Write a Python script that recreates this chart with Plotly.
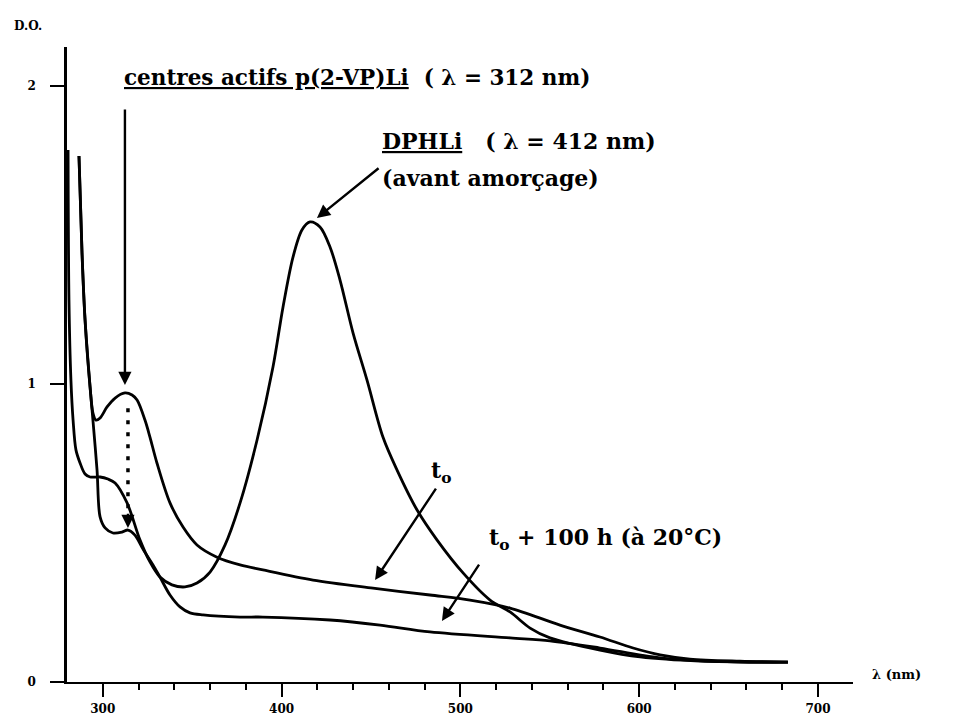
import plotly.graph_objects as go

# ---------------- data ----------------
# DPHLi solution before initiation (avant amorçage)
lam_dphli = [280.6, 281.1, 282.2, 283.4, 285.0, 287.3, 290.1, 292.9, 298.5, 302.9, 306.9,
             313.6, 320.8, 326.4, 332.0, 338.7, 346.0, 352.7, 360.0, 368.4, 376.8, 386.3,
             395.2, 400.8, 406.4, 411.4, 415.9, 421.5, 427.1, 432.7, 440.0, 447.8, 456.7,
             464.6, 475.8, 486.9, 501.5, 516.6, 527.8, 539.0, 550.1, 578.1, 600.5, 634.0, 683.2]
do_dphli = [1.785, 1.282, 1.013, 0.879, 0.779, 0.735, 0.698, 0.688, 0.688, 0.681, 0.668,
            0.601, 0.477, 0.403, 0.352, 0.326, 0.319, 0.332, 0.369, 0.460, 0.601, 0.812,
            1.057, 1.258, 1.426, 1.517, 1.544, 1.527, 1.460, 1.349, 1.171, 1.013, 0.822,
            0.711, 0.577, 0.477, 0.366, 0.275, 0.235, 0.181, 0.148, 0.107, 0.084, 0.070, 0.067]

# living p(2-VP)Li centres at t0
lam_t0 = [286.7, 288.4, 290.1, 292.9, 294.5, 296.2, 298.5, 302.4, 306.9, 312.4, 316.4,
          319.2, 323.6, 326.4, 330.3, 337.6, 344.9, 352.7, 363.9, 376.8, 389.6, 417.6,
          451.1, 483.0, 505.4, 527.8, 555.7, 578.1, 596.6, 611.7, 628.4, 656.4, 683.2]
do_t0 = [1.765, 1.440, 1.215, 0.990, 0.903, 0.879, 0.886, 0.923, 0.953, 0.970, 0.963,
         0.946, 0.879, 0.822, 0.735, 0.601, 0.520, 0.460, 0.419, 0.393, 0.376, 0.342,
         0.315, 0.292, 0.275, 0.248, 0.191, 0.151, 0.114, 0.091, 0.077, 0.070, 0.067]

# t0 + 100 h at 20 °C
lam_t100 = [286.7, 288.4, 290.1, 292.9, 294.5, 296.8, 298.5, 301.3, 305.7, 310.8, 314.1,
            318.0, 322.5, 328.1, 332.0, 337.6, 343.2, 348.8, 356.1, 376.8, 389.6, 427.1,
            455.1, 483.0, 527.8, 550.1, 578.1, 611.7, 656.4, 683.2]
do_t100 = [1.765, 1.440, 1.215, 0.990, 0.879, 0.711, 0.554, 0.517, 0.500, 0.503, 0.510,
           0.493, 0.446, 0.393, 0.352, 0.292, 0.252, 0.232, 0.225, 0.218, 0.218, 0.208,
           0.191, 0.168, 0.148, 0.138, 0.114, 0.081, 0.067, 0.067]

x_ticks = [300, 400, 500, 600, 700]
x_tick_labels = ["300", "400", "500", "600", "700"]
x_minor_ticks = [320, 340, 360, 380, 420, 440, 460, 480, 520, 540, 560, 580,
                 620, 640, 660, 680]
y_ticks = [0, 1, 2]
y_tick_labels = ["0", "1", "2"]

# marker arrows (wavelength / D.O. of the labelled bands)
peak_vp_lambda = 312.4          # p(2-VP)Li band
peak_vp_top = 1.926
peak_vp_tip = 0.997
decay_lambda = 314.1            # dotted decay arrow
decay_from = 0.919
decay_to = 0.55
decay_tip = 0.517

FONT = "DejaVu Serif"
black = "black"

fig = go.Figure()
for lam, do in [(lam_dphli, do_dphli), (lam_t0, do_t0), (lam_t100, do_t100)]:
    fig.add_trace(go.Scatter(x=lam, y=do, mode="lines",
                             line=dict(color=black, width=2.8, shape="spline", smoothing=0.9),
                             showlegend=False, hoverinfo="skip"))

# dotted part of the decay arrow
fig.add_trace(go.Scatter(x=[decay_lambda, decay_lambda], y=[decay_from, decay_to], mode="lines",
                         line=dict(color=black, width=3.5, dash="4px,8px"),
                         showlegend=False, hoverinfo="skip"))

ann_font = dict(family=FONT, size=22, color=black, weight="bold")
annotations = [
    # texts
    dict(x=310.5, y=2.030, xref="x", yref="y", xanchor="left", yanchor="middle", showarrow=False,
         text="<u>centres actifs p(2-VP)Li</u>\u00a0\u00a0(\u00a0λ = 312 nm)",
         font=dict(ann_font, size=21.5)),
    dict(x=454.8, y=1.815, xref="x", yref="y", xanchor="left", yanchor="middle", showarrow=False,
         text="<u>DPHLi</u>\u00a0\u00a0\u00a0(\u00a0λ = 412 nm)", font=ann_font),
    dict(x=454.8, y=1.690, xref="x", yref="y", xanchor="left", yanchor="middle", showarrow=False,
         text="(avant amorçage)", font=ann_font),
    dict(x=482.3, y=0.705, xref="x", yref="y", xanchor="left", yanchor="middle", showarrow=False,
         text="t<sub>o</sub>", font=ann_font),
    dict(x=514.7, y=0.480, xref="x", yref="y", xanchor="left", yanchor="middle", showarrow=False,
         text="t<sub>o</sub> + 100 h (à 20°C)", font=ann_font),
    # axis titles (positions given in page pixels)
    dict(x=28, y=26, xref="pixel", yref="pixel", showarrow=False, text="D.O.",
         font=dict(family=FONT, size=12, color=black, weight="bold")),
    dict(x=896, y=674, xref="pixel", yref="pixel", showarrow=False, text="λ (nm)",
         font=dict(family=FONT, size=13, color=black, weight="bold")),
]
# arrows
arrow_common = dict(xref="x", yref="y", axref="x", ayref="y", text="", showarrow=True,
                    arrowhead=2, arrowsize=1.1, arrowwidth=2.4, arrowcolor=black, standoff=0)
annotations += [
    dict(x=peak_vp_lambda, y=peak_vp_tip, ax=peak_vp_lambda, ay=peak_vp_top, **arrow_common),
    dict(x=decay_lambda, y=decay_tip, ax=decay_lambda, ay=decay_to + 0.02, **arrow_common),
    dict(x=419.8, y=1.557, ax=455.1, ay=1.728, **arrow_common),
    dict(x=452.3, y=0.342, ax=486.9, ay=0.654, **arrow_common),
    dict(x=489.7, y=0.205, ax=511.0, ay=0.399, **arrow_common),
]

# page body has an 8px margin: size the figure so the plot lands where the reference has it
OFF = 8
W, H = 953 - OFF, 718 - OFF
PLOT_LEFT, PLOT_RIGHT, PLOT_TOP, PLOT_BOTTOM = 67, 853, 47, 682   # page pixels
L, R = PLOT_LEFT - OFF, W - (PLOT_RIGHT - OFF)
T, B = PLOT_TOP - OFF, H - (PLOT_BOTTOM - OFF)
for a in annotations:
    if a.get("xref") == "pixel":
        a["xref"] = "paper"
        a["yref"] = "paper"
        a["x"] = (a["x"] - PLOT_LEFT) / (PLOT_RIGHT - PLOT_LEFT)
        a["y"] = (PLOT_BOTTOM - a["y"]) / (PLOT_BOTTOM - PLOT_TOP)
        a["xanchor"] = "center"
        a["yanchor"] = "middle"

tickfont = dict(family=FONT, size=12, color=black, weight="bold")
fig.update_layout(
    width=W, height=H, margin=dict(l=L, r=R, t=T, b=B, autoexpand=False),
    paper_bgcolor="white", plot_bgcolor="white", showlegend=False,
    xaxis=dict(range=[280, 719.6], showline=True, linecolor=black, linewidth=2,
               ticks="outside", ticklen=13, tickwidth=2, tickcolor=black,
               tickmode="array", tickvals=x_ticks, ticktext=x_tick_labels,
               minor=dict(tickmode="array", tickvals=x_minor_ticks, ticks="outside",
                          ticklen=6, tickwidth=2, tickcolor=black),
               showgrid=False, zeroline=False, tickfont=tickfont, ticklabelstandoff=2,
               automargin=False),
    yaxis=dict(range=[0, 2.131], showline=True, linecolor=black, linewidth=2.5,
               ticks="outside", ticklen=14, tickwidth=2, tickcolor=black,
               tickmode="array", tickvals=y_ticks, ticktext=y_tick_labels,
               showgrid=False, zeroline=False, tickfont=tickfont, ticklabelstandoff=12,
               automargin=False),
    annotations=annotations,
)

fig.write_html("out.html")
